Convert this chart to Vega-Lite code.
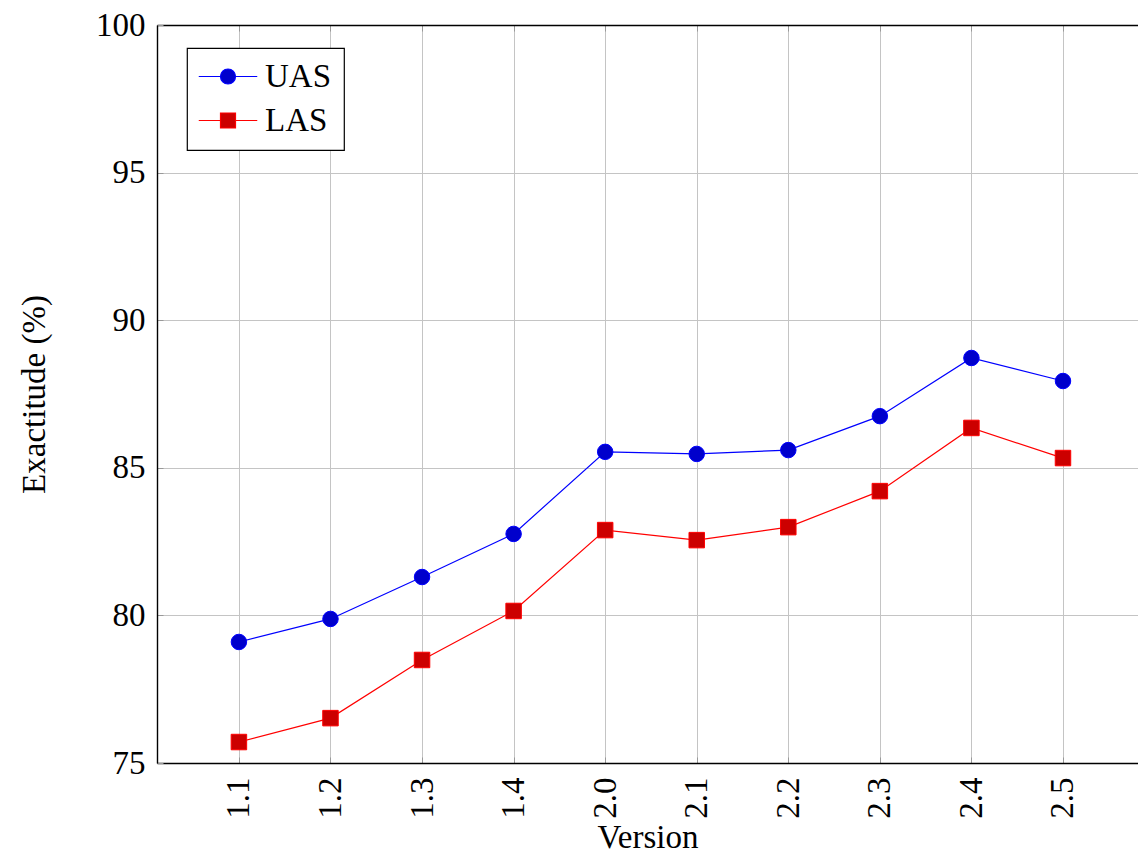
{
  "$schema": "https://vega.github.io/schema/vega-lite/v6.json",
  "width": 981,
  "height": 738,
  "autosize": "none",
  "padding": {"left": 157, "top": 25, "right": 0, "bottom": 92},
  "config": {
    "font": "Liberation Serif",
    "view": {"stroke": null},
    "axis": {
      "labelFont": "Liberation Serif",
      "titleFont": "Liberation Serif",
      "labelFontSize": 33,
      "titleFontSize": 33,
      "titleFontWeight": "normal",
      "labelColor": "black",
      "titleColor": "black",
      "domainColor": "black",
      "domainWidth": 1.4,
      "gridColor": "#c4c4c4",
      "gridWidth": 1,
      "gridOpacity": 1,
      "tickColor": "#999999",
      "tickSize": -6,
      "tickWidth": 1
    }
  },
  "data": {
    "values": [
      {"version": "1.1", "series": "UAS", "value": 79.10},
      {"version": "1.2", "series": "UAS", "value": 79.88},
      {"version": "1.3", "series": "UAS", "value": 81.30},
      {"version": "1.4", "series": "UAS", "value": 82.76},
      {"version": "2.0", "series": "UAS", "value": 85.54},
      {"version": "2.1", "series": "UAS", "value": 85.47},
      {"version": "2.2", "series": "UAS", "value": 85.60},
      {"version": "2.3", "series": "UAS", "value": 86.75},
      {"version": "2.4", "series": "UAS", "value": 88.72},
      {"version": "2.5", "series": "UAS", "value": 87.94},
      {"version": "1.1", "series": "LAS", "value": 75.71},
      {"version": "1.2", "series": "LAS", "value": 76.52},
      {"version": "1.3", "series": "LAS", "value": 78.49},
      {"version": "1.4", "series": "LAS", "value": 80.15},
      {"version": "2.0", "series": "LAS", "value": 82.89},
      {"version": "2.1", "series": "LAS", "value": 82.55},
      {"version": "2.2", "series": "LAS", "value": 82.99},
      {"version": "2.3", "series": "LAS", "value": 84.21},
      {"version": "2.4", "series": "LAS", "value": 86.35},
      {"version": "2.5", "series": "LAS", "value": 85.33}
    ]
  },
  "layer": [
    {
      "mark": {"type": "line", "strokeWidth": 1.2},
      "encoding": {
        "x": {
          "field": "version", "type": "ordinal", "sort": null,
          "scale": {"type": "point", "padding": 0.857, "align": 0.522},
          "axis": {"orient": "bottom", "title": "Version", "labelAngle": 270, "labelPadding": 20, "titlePadding": 3, "grid": true}
        },
        "y": {
          "field": "value", "type": "quantitative",
          "scale": {"domain": [75, 100], "nice": false, "zero": false},
          "axis": {"title": "Exactitude (%)", "values": [75, 80, 85, 90, 95, 100], "labelPadding": 18, "titlePadding": 44, "grid": true}
        },
        "stroke": {
          "field": "series", "type": "nominal",
          "scale": {"domain": ["UAS", "LAS"], "range": ["#0000ff", "#ff0000"]},
          "legend": {
            "orient": "none", "legendX": 30, "legendY": 23, "title": null,
            "strokeColor": "black", "fillColor": "white",
            "padding": 12, "symbolOffset": 12.5, "labelOffset": 20.5,
            "labelFont": "Liberation Serif", "labelFontSize": 33, "labelColor": "black",
            "rowPadding": 10, "symbolSize": 225, "symbolStrokeWidth": 1.2,
            "encode": {
              "legend": {"update": {"strokeWidth": {"value": 1.2}}},
              "symbols": {
                "update": {
                  "shape": {"signal": "datum.value === 'UAS' ? 'M-3.9,0H-1M1,0H3.9M1,0A1,1,0,1,1,-1,0A1,1,0,1,1,1,0Z' : 'M-3.9,0H-1M1,0H3.9M-1,-1H1V1H-1Z'"},
                  "fill": {"signal": "datum.value === 'UAS' ? '#0000cc' : '#cc0000'"},
                  "stroke": {"signal": "datum.value === 'UAS' ? '#0000ff' : '#ff0000'"},
                  "opacity": {"value": 1},
                  "fillOpacity": {"value": 1}
                }
              }
            }
          }
        }
      }
    },
    {
      "transform": [{"filter": "datum.series === 'UAS'"}],
      "mark": {"type": "point", "shape": "circle", "filled": true, "size": 240, "strokeWidth": 1, "opacity": 1},
      "encoding": {
        "x": {
          "field": "version", "type": "ordinal", "sort": null,
          "axis": {"orient": "top", "title": null, "labels": false, "grid": false}
        },
        "y": {"field": "value", "type": "quantitative"},
        "fill": {
          "field": "series", "type": "nominal",
          "scale": {"domain": ["UAS", "LAS"], "range": ["#0000cc", "#cc0000"]},
          "legend": null
        },
        "stroke": {"field": "series", "type": "nominal"}
      }
    },
    {
      "transform": [{"filter": "datum.series === 'LAS'"}],
      "mark": {"type": "point", "shape": "square", "filled": true, "size": 240, "strokeWidth": 1, "opacity": 1},
      "encoding": {
        "x": {"field": "version", "type": "ordinal", "sort": null, "axis": null},
        "y": {"field": "value", "type": "quantitative"},
        "fill": {"field": "series", "type": "nominal", "legend": null},
        "stroke": {"field": "series", "type": "nominal"}
      }
    }
  ],
  "resolve": {"axis": {"x": "independent"}}
}
